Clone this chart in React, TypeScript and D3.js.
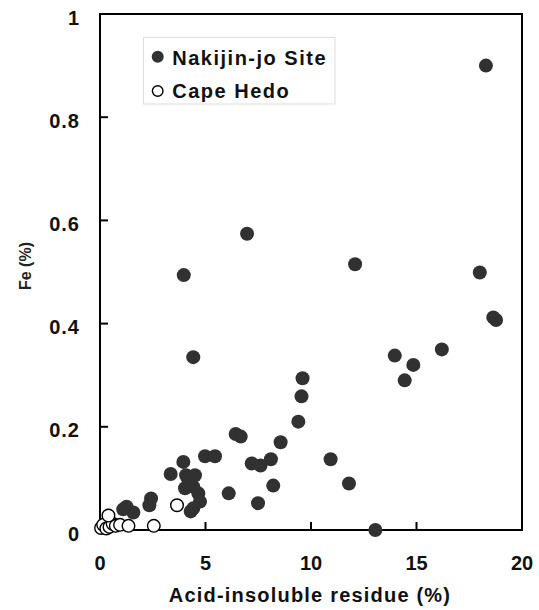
import React from "react";
import * as d3 from "d3";

const nakijinX = [18.29, 6.97, 3.97, 12.09, 18.0, 18.64, 18.77, 16.2, 4.42, 13.97, 14.85, 14.44, 9.6, 9.55, 9.4, 8.56, 6.43, 6.67, 4.98, 5.45, 8.1, 7.19, 7.61, 10.93, 11.8, 13.05, 3.95, 3.35, 4.08, 4.5, 4.03, 4.42, 4.66, 4.74, 4.42, 4.3, 4.19, 6.1, 7.49, 8.21, 2.42, 2.34, 1.26, 1.58, 1.1];
const nakijinY = [0.9, 0.574, 0.494, 0.515, 0.499, 0.412, 0.407, 0.35, 0.335, 0.338, 0.32, 0.29, 0.294, 0.259, 0.21, 0.17, 0.186, 0.181, 0.143, 0.143, 0.137, 0.129, 0.125, 0.137, 0.09, 0.0, 0.132, 0.1085, 0.106, 0.106, 0.081, 0.084, 0.071, 0.055, 0.042, 0.036, 0.097, 0.071, 0.052, 0.086, 0.061, 0.048, 0.045, 0.034, 0.04];

const hedoX = [0.05, 0.15, 0.3, 0.45, 0.6, 0.75, 0.95, 0.4, 1.35, 2.55, 3.65];
const hedoY = [0.004, 0.01, 0.003, 0.006, 0.012, 0.008, 0.01, 0.028, 0.008, 0.008, 0.048];

const xTicks = [0, 5, 10, 15, 20];
const xTickLabels = ["0", "5", "10", "15", "20"];
const yTicks = [0, 0.2, 0.4, 0.6, 0.8, 1];
const yTickLabels = ["0", "0.2", "0.4", "0.6", "0.8", "1"];

const seriesNames = ["Nakijin-jo Site", "Cape Hedo"];
const xTitle = "Acid-insoluble residue (%)";
const yTitle = "Fe (%)";

export default function App() {
  const W = 539, H = 610;
  const x = d3.scaleLinear().domain([0, 20]).range([100, 522]);
  const y = d3.scaleLinear().domain([0, 1]).range([530, 14]);
  const font = "'Liberation Sans', Arial, sans-serif";
  const fill = "#313131";
  const tickLen = 8;

  return (
    <svg width={W} height={H} style={{ position: "absolute", left: 0, top: 0, background: "#fff" }} fontFamily={font}>
      {/* ticks */}
      {xTicks.slice(1, -1).map((t, i) => (
        <line key={"xt" + i} x1={x(t)} x2={x(t)} y1={y(0)} y2={y(0) - tickLen} stroke="#000" strokeWidth={2} />
      ))}
      {yTicks.slice(1, -1).map((t, i) => (
        <line key={"yt" + i} x1={x(0)} x2={x(0) + tickLen} y1={y(t)} y2={y(t)} stroke="#000" strokeWidth={2} />
      ))}
      {/* frame */}
      <rect x={x(0)} y={y(1)} width={x(20) - x(0)} height={y(0) - y(1)} fill="none" stroke="#000" strokeWidth={2} />

      {/* tick labels */}
      {xTicks.map((t, i) => (
        <text key={"xl" + i} x={x(t)} y={570} textAnchor="middle" fontSize={20} fontWeight="bold" fill="#111">
          {xTickLabels[i]}
        </text>
      ))}
      {yTicks.map((t, i) => (
        <text key={"yl" + i} x={80} y={y(t) + 10.5} textAnchor="end" fontSize={20} fontWeight="bold" fill="#111" letterSpacing={1}>
          {yTickLabels[i]}
        </text>
      ))}

      {/* titles */}
      <text x={310} y={602} textAnchor="middle" fontSize={20} fontWeight="bold" fill="#111" letterSpacing={1.2}>
        {xTitle}
      </text>
      <text transform={`translate(31,266) rotate(-90)`} textAnchor="middle" fontSize={16} fontWeight="bold" fill="#222">
        {yTitle}
      </text>

      {/* points */}
      {nakijinX.map((v, i) => (
        <circle key={"n" + i} cx={x(v)} cy={y(nakijinY[i])} r={7} fill={fill} />
      ))}
      {hedoX.map((v, i) => (
        <circle key={"h" + i} cx={x(v)} cy={y(hedoY[i])} r={6.3} fill="#fff" stroke="#000" strokeWidth={1.4} />
      ))}

      {/* legend */}
      <rect x={143.5} y={37.5} width={191.5} height={66.5} fill="#fff" stroke="#ddd" strokeWidth={1} />
      <circle cx={157.7} cy={56.7} r={6} fill={fill} />
      <circle cx={157.7} cy={91} r={5.3} fill="#fff" stroke="#000" strokeWidth={1.4} />
      <text x={172.3} y={65} fontSize={20} fontWeight="bold" fill="#111" letterSpacing={1.5}>{seriesNames[0]}</text>
      <text x={172.3} y={97.7} fontSize={20} fontWeight="bold" fill="#111" letterSpacing={1.5}>{seriesNames[1]}</text>
    </svg>
  );
}
